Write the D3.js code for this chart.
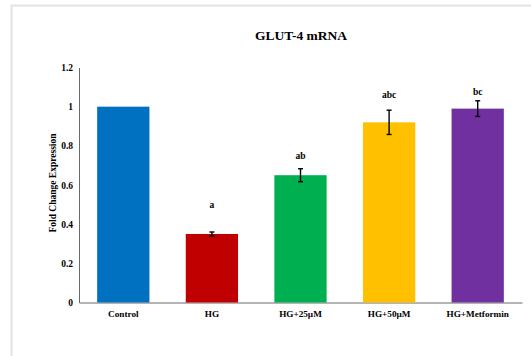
<!DOCTYPE html>
<html>
<head>
<meta charset="utf-8">
<script src="https://cdn.jsdelivr.net/npm/d3@7/dist/d3.min.js"></script>
<style>
  html, body { margin: 0; padding: 0; background: #fff; }
  svg { display: block; }
  text { font-family: "Liberation Serif", "Times New Roman", serif; font-weight: bold; fill: #000; }
</style>
</head>
<body>
<svg id="chart" width="531" height="356"></svg>
<script>
// GLUT-4 mRNA fold change by treatment group
const groups = ["Control", "HG", "HG+25\u00B5M", "HG+50\u00B5M", "HG+Metformin"];
const means = [1.0, 0.35, 0.65, 0.92, 0.99];
const errors = [0, 0.01, 0.033, 0.062, 0.04];
const letters = ["", "a", "ab", "abc", "bc"];
const letterLevel = [null, 0.50, 0.75, 1.06, 1.075];
const colors = ["#0070C0", "#C00000", "#00B050", "#FFC000", "#7030A0"];
const yTicks = [0, 0.2, 0.4, 0.6, 0.8, 1, 1.2];

const svg = d3.select("#chart");

// outer frame
svg.append("rect")
  .attr("x", 11.5).attr("y", 5.5)
  .attr("width", 540).attr("height", 360)
  .attr("fill", "none").attr("stroke", "#e3e3e3").attr("stroke-width", 2);

const margin = { left: 79, right: 9, top: 67.5, bottom: 53.5 };
const W = 531, H = 356;

const x = d3.scaleBand().domain(groups)
  .range([margin.left, W - margin.right])
  .paddingInner(0.41).paddingOuter(0.205);
const y = d3.scaleLinear().domain([0, 1.2]).range([H - margin.bottom, margin.top]);

// title
svg.append("text")
  .attr("x", 301).attr("y", 40)
  .attr("text-anchor", "middle")
  .style("font-size", "13.5px")
  .text("GLUT-4 mRNA");

// y axis
const yAxis = d3.axisLeft(y).tickValues(yTicks).tickSize(0).tickPadding(6)
  .tickFormat(d3.format("~g"));
const gy = svg.append("g").attr("transform", `translate(${margin.left},0)`).call(yAxis);
gy.select(".domain").attr("stroke", "#6a6a6a").attr("stroke-width", 1);
gy.selectAll("text").style("font-size", "9.5px").style("font-family", "Liberation Serif, serif").style("font-weight", "bold");

// x axis
const xAxis = d3.axisBottom(x).tickSize(0).tickPadding(8);
const gx = svg.append("g").attr("transform", `translate(0,${y(0)})`).call(xAxis);
gx.select(".domain").attr("stroke", "#6a6a6a").attr("stroke-width", 1.2);
gx.selectAll("text").style("font-size", "9.2px").style("font-family", "Liberation Serif, serif").style("font-weight", "bold");

// y axis title
svg.append("text")
  .attr("transform", `translate(56,${(y(0) + y(1.2)) / 2 - 2}) rotate(-90)`)
  .attr("text-anchor", "middle")
  .style("font-size", "9.5px")
  .text("Fold Change Expression");

// bars
svg.append("g").selectAll("rect")
  .data(groups)
  .join("rect")
  .attr("x", d => x(d))
  .attr("width", x.bandwidth())
  .attr("y", (d, i) => y(means[i]))
  .attr("height", (d, i) => y(0) - y(means[i]))
  .attr("fill", (d, i) => colors[i]);

// error bars
const eb = svg.append("g").attr("stroke", "#000").attr("stroke-width", 1.4);
groups.forEach((g, i) => {
  if (!errors[i]) return;
  const cx = x(g) + x.bandwidth() / 2;
  const top = y(means[i] + errors[i]);
  const bot = y(means[i] - errors[i]);
  eb.append("line").attr("x1", cx).attr("x2", cx).attr("y1", top).attr("y2", bot);
  eb.append("line").attr("x1", cx - 2.5).attr("x2", cx + 2.5).attr("y1", top).attr("y2", top);
  eb.append("line").attr("x1", cx - 2.5).attr("x2", cx + 2.5).attr("y1", bot).attr("y2", bot);
});

// significance letters
svg.append("g").selectAll("text")
  .data(groups)
  .join("text")
  .filter((d, i) => letters[i] !== "")
  .attr("x", d => x(d) + x.bandwidth() / 2)
  .attr("y", d => y(letterLevel[groups.indexOf(d)]))
  .attr("dy", "0.35em")
  .attr("text-anchor", "middle")
  .style("font-size", "9.5px")
  .text(d => letters[groups.indexOf(d)]);
</script>
</body>
</html>
